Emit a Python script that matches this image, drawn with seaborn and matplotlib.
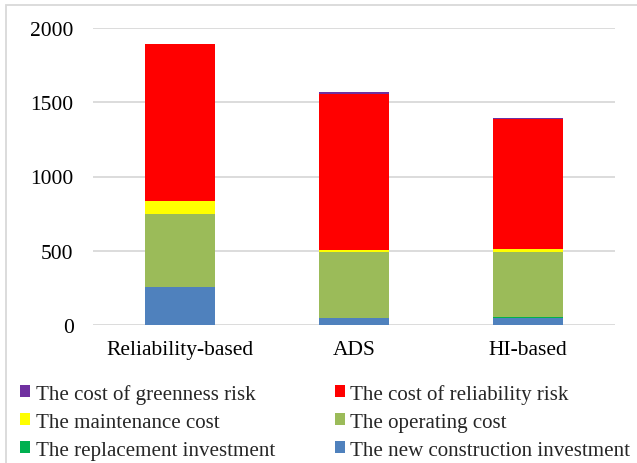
import matplotlib
matplotlib.use("Agg")
import matplotlib.pyplot as plt
from matplotlib.patches import Patch, Rectangle
import seaborn as sns
import pandas as pd
import numpy as np

# Strategies compared
categories = ["Reliability-based", "ADS", "HI-based"]

# Cost components (stacked bottom to top)
new_construction = [258, 45, 45]
replacement = [0, 0, 10]
operating = [490, 445, 439]
maintenance = [86, 15, 18]
reliability_risk = [1058, 1050, 875]
greenness_risk = [0, 11, 6]

series = [
    ("The new construction investment", new_construction, "#4F81BD"),
    ("The replacement investment", replacement, "#00B050"),
    ("The operating cost", operating, "#9BBB59"),
    ("The maintenance cost", maintenance, "#FFFF00"),
    ("The cost of reliability risk", reliability_risk, "#FF0000"),
    ("The cost of greenness risk", greenness_risk, "#7030A0"),
]

y_ticks = [0, 500, 1000, 1500, 2000]

sns.set_style("white")
plt.rcParams["font.family"] = ["Liberation Serif", "DejaVu Serif"]

FS = 15.5
W, H = 637, 464
fig = plt.figure(figsize=(W / 100, H / 100), dpi=100)
ax = fig.add_axes([93 / W, 1 - 326 / H, (615 - 93) / W, (326 - 29) / H])

bottom = np.zeros(len(categories))
handles = {}
for name, vals, col in series:
    df = pd.DataFrame({"cat": categories, "val": vals})
    sns.barplot(data=df, x="cat", y="val", color=col, bottom=bottom,
                width=0.4, ax=ax, zorder=3, linewidth=0, saturation=1)
    bottom = bottom + np.array(vals, dtype=float)
    handles[name] = Patch(facecolor=col, edgecolor="none")

ax.set_ylim(0, 2000)
ax.set_xlim(-0.5, len(categories) - 0.5)
ax.set_yticks(y_ticks)
ax.set_yticklabels([str(t) for t in y_ticks])
ax.yaxis.grid(True, color="#D9D9D9", linewidth=1.3, zorder=0)
ax.set_axisbelow(True)
for s in ax.spines.values():
    s.set_visible(False)
ax.set_xlabel("")
ax.set_ylabel("")
ax.tick_params(axis="y", length=0, pad=14, labelsize=FS, colors="#000000")
ax.tick_params(axis="x", length=0, pad=11, labelsize=FS, colors="#000000")

# Legend in two columns
order = ["The cost of greenness risk", "The maintenance cost", "The replacement investment",
         "The cost of reliability risk", "The operating cost", "The new construction investment"]
leg = fig.legend([handles[n] for n in order], order, ncol=2, loc="upper left",
                 bbox_to_anchor=(20 / W, 1 - 385 / H), frameon=False, fontsize=15.1,
                 handlelength=0.5, handleheight=0.5, handletextpad=0.25,
                 columnspacing=2.85, labelspacing=0.42, borderpad=0, borderaxespad=0)

# Chart-area border
fig.patches.append(Rectangle((6 / W, -0.01), 1.02 - 6 / W, 1 - 6 / H + 0.01,
                             transform=fig.transFigure, fill=False,
                             edgecolor="#D9D9D9", linewidth=1.3))

fig.savefig("out.png", dpi=100)
